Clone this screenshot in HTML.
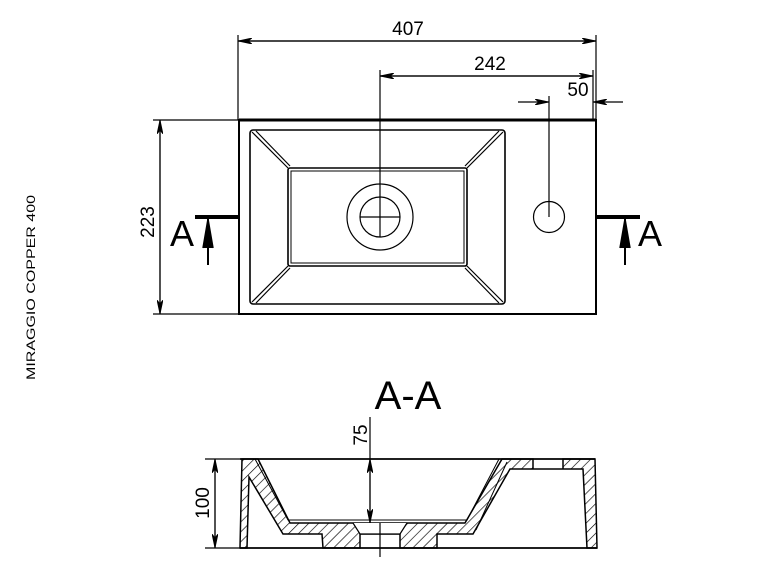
<!DOCTYPE html>
<html><head><meta charset="utf-8"><style>
html,body{margin:0;padding:0;background:#fff;}
svg{display:block;font-family:"Liberation Sans",sans-serif;}
</style></head><body>
<svg width="770" height="578" viewBox="0 0 770 578" xmlns="http://www.w3.org/2000/svg">
<defs>
<pattern id="h" patternUnits="userSpaceOnUse" width="7" height="7" patternTransform="rotate(45)">
<rect width="7" height="7" fill="#fff"/><line x1="0" y1="0" x2="0" y2="7" stroke="#000" stroke-width="1.3"/>
</pattern>
<marker id="a" viewBox="0 0 14 6" refX="14" refY="3" markerWidth="14" markerHeight="6" orient="auto" markerUnits="userSpaceOnUse">
<path d="M0,0 L14,3 L0,6 L4,3 Z" fill="#000" stroke="#000" stroke-width="0.8"/></marker>
</defs>
<g stroke="#000" fill="none" stroke-width="1.2">
<line x1="238" y1="35" x2="238" y2="120"/>
<line x1="596" y1="35" x2="596" y2="120"/>
<line x1="593" y1="70" x2="593" y2="120"/>
<line x1="380" y1="70" x2="380" y2="237"/>
<line x1="549" y1="96" x2="549" y2="217"/>
<line x1="153" y1="120" x2="239" y2="120"/>
<line x1="153" y1="314" x2="239" y2="314"/>
<line x1="596" y1="41" x2="238" y2="41" marker-end="url(#a)"/>
<line x1="238" y1="41" x2="596" y2="41" marker-end="url(#a)"/>
<line x1="380" y1="76" x2="593" y2="76" marker-end="url(#a)"/>
<line x1="593" y1="76" x2="380" y2="76" marker-end="url(#a)"/>
<line x1="518" y1="102" x2="549" y2="102" marker-end="url(#a)"/>
<line x1="623" y1="102" x2="593" y2="102" marker-end="url(#a)"/>
<line x1="160" y1="314" x2="160" y2="120" marker-end="url(#a)"/>
<line x1="160" y1="120" x2="160" y2="314" marker-end="url(#a)"/>
<rect x="239" y="120" width="357" height="194" stroke-width="2"/>
<line x1="239" y1="120" x2="596" y2="120" stroke-width="3"/>
<rect x="250" y="130" width="255" height="174" rx="3" stroke-width="1.6"/>
<rect x="288" y="168" width="179" height="98" rx="2" stroke-width="1.6"/>
<rect x="291" y="171" width="173" height="92" stroke-width="1"/>
<line x1="252" y1="132" x2="288" y2="168"/><line x1="256" y1="131" x2="290" y2="166"/>
<line x1="503" y1="132" x2="467" y2="168"/><line x1="499" y1="131" x2="465" y2="166"/>
<line x1="252" y1="302" x2="288" y2="266"/><line x1="256" y1="303" x2="290" y2="268"/>
<line x1="503" y1="302" x2="467" y2="266"/><line x1="499" y1="303" x2="465" y2="268"/>
<circle cx="380" cy="217" r="33"/>
<circle cx="380" cy="217" r="20"/>
<line x1="360" y1="217" x2="400" y2="217"/>
<circle cx="549" cy="217" r="15.5"/>
<line x1="195" y1="217" x2="239" y2="217" stroke-width="4"/>
<line x1="596" y1="217" x2="640" y2="217" stroke-width="4"/>
<line x1="208" y1="265" x2="208" y2="219" stroke-width="2"/>
<path d="M203,248 L208,219 L213,248" stroke-width="1.5" fill="#000"/>
<line x1="625" y1="265" x2="625" y2="219" stroke-width="2"/>
<path d="M620,248 L625,219 L630,248" stroke-width="1.5" fill="#000"/>
<path d="M242,459 L258,459 L290,523 L465,523 L502,459 L533,459 L533,469 L563,469 L563,459 L595,459 L597,548 L587,548 L583,469 L510,469 L473,534 L437,534 L437,548 L400,548 L400,534 L360,534 L360,548 L323,548 L322,534 L283,534 L249,477 L247,548 L240,548 Z" fill="url(#h)" stroke-width="1.5"/>
<path d="M353,523 L360,534 L400,534 L407,523" fill="#fff" stroke-width="1.2"/>
<line x1="240" y1="459" x2="595" y2="459" stroke-width="1.8"/>
<line x1="240" y1="548" x2="597" y2="548" stroke-width="1.8"/>
<path d="M255,459 L288,520 L467,520 L499,459" stroke-width="1"/>
<path d="M507,462 L476,530" stroke-width="1"/>
<line x1="205" y1="459" x2="240" y2="459"/>
<line x1="205" y1="548" x2="240" y2="548"/>
<line x1="215" y1="548" x2="215" y2="459" marker-end="url(#a)"/>
<line x1="215" y1="459" x2="215" y2="548" marker-end="url(#a)"/>
<line x1="370" y1="417" x2="370" y2="459"/>
<line x1="370" y1="523" x2="370" y2="459" marker-end="url(#a)"/>
<line x1="370" y1="459" x2="370" y2="523" marker-end="url(#a)"/>
<line x1="380" y1="523" x2="380" y2="557"/>
</g>
<g fill="#000" font-size="19">
<text x="408" y="35" text-anchor="middle">407</text>
<text x="490" y="70" text-anchor="middle">242</text>
<text x="578" y="96" text-anchor="middle">50</text>
<text transform="translate(154,222) rotate(-90)" text-anchor="middle">223</text>
<text transform="translate(209,503) rotate(-90)" text-anchor="middle">100</text>
<text transform="translate(367,435) rotate(-90)" text-anchor="middle">75</text>
<text x="182" y="246" font-size="36" text-anchor="middle">A</text>
<text x="650" y="246" font-size="36" text-anchor="middle">A</text>
<text x="408" y="409" font-size="40" text-anchor="middle">A-A</text>
<text transform="translate(35,380) rotate(-90)" font-size="12" textLength="185" lengthAdjust="spacingAndGlyphs">MIRAGGIO COPPER 400</text>
</g>
</svg>
</body></html>
